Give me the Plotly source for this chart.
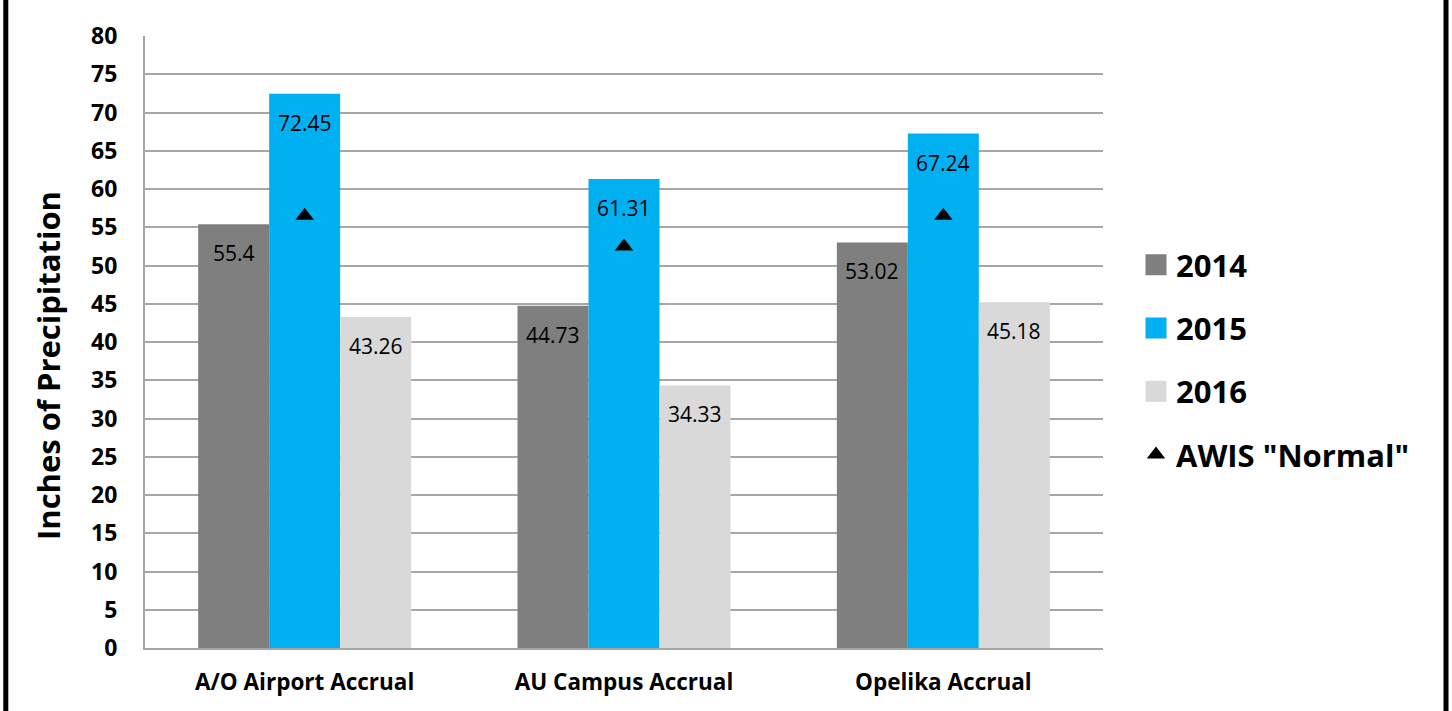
import plotly.graph_objects as go

categories = ["A/O Airport Accrual", "AU Campus Accrual", "Opelika Accrual"]
series_names = ["2014", "2015", "2016"]
values_2014 = [55.4, 44.73, 53.02]
values_2015 = [72.45, 61.31, 67.24]
values_2016 = [43.26, 34.33, 45.18]
normal_name = 'AWIS "Normal"'
normal_values = [56.5, 52.5, 56.5]
y_ticks = list(range(0, 85, 5))
y_title = "Inches of Precipitation"

colors = ["#7F7F7F", "#00B0F0", "#D9D9D9"]
series_values = [values_2014, values_2015, values_2016]

W, H = 1452, 711
ML, MR, MT, MB = 145, 349, 36, 63
plot_w = W - ML - MR
plot_h = H - MT - MB
BARGAP = 0.333
bar_px = plot_w / len(categories) * (1 - BARGAP) / len(series_names)

FONT = "Open Sans"

fig = go.Figure()

for j, (name, vals) in enumerate(zip(series_names, series_values)):
    fig.add_trace(go.Bar(
        x=categories, y=vals, name=name,
        marker=dict(color=colors[j], line=dict(width=0)),
        showlegend=False, hoverinfo="x+y",
    ))

# legend swatches
for j, name in enumerate(series_names):
    fig.add_trace(go.Scatter(
        x=[None], y=[None], mode="markers", name=name,
        legendgroup=name,
        marker=dict(symbol="square", size=16, color=colors[j],
                    line=dict(color=colors[j], width=5)),
    ))

fig.add_trace(go.Scatter(
    x=categories, y=normal_values, mode="markers", name=normal_name,
    legendgroup="normal",
    marker=dict(symbol="triangle-up", size=16, color="black"),
))

px2x = lambda px: (px - ML) / plot_w
px2y = lambda py: (ML * 0 + (MT + plot_h) - py) / plot_h

# data labels
annotations = []
for j, vals in enumerate(series_values):
    for i, v in enumerate(vals):
        annotations.append(dict(
            x=categories[i], y=v, xref="x", yref="y",
            text=f"{v:g}", showarrow=False,
            xshift=(j - 1) * bar_px, yshift=-29,
            font=dict(family=FONT, size=21, color="black"),
        ))

# y-axis title
annotations.append(dict(
    x=px2x(48), y=px2y(366), xref="paper", yref="paper",
    text=y_title, textangle=-90, showarrow=False,
    xanchor="center", yanchor="middle",
    font=dict(family=FONT, size=31, color="black", weight="bold"),
))

shapes = [
    dict(type="line", xref="paper", yref="paper",
         x0=px2x(5.8), x1=px2x(5.8), y0=-0.3, y1=1.3,
         line=dict(color="black", width=5)),
    dict(type="line", xref="paper", yref="paper",
         x0=px2x(1446), x1=px2x(1446), y0=-0.3, y1=1.3,
         line=dict(color="black", width=5)),
]

fig.update_layout(
    width=W, height=H,
    margin=dict(l=ML, r=MR, t=MT, b=MB, autoexpand=False),
    paper_bgcolor="white", plot_bgcolor="white",
    barmode="group", bargap=BARGAP, bargroupgap=0,
    font=dict(family=FONT, color="black"),
    annotations=annotations,
    shapes=shapes,
    legend=dict(
        x=px2x(1136), xanchor="left",
        y=px2y(360), yanchor="middle",
        font=dict(family=FONT, size=31, color="black", weight="bold"),
        tracegroupgap=20, traceorder="grouped",
        bgcolor="rgba(0,0,0,0)",
    ),
    showlegend=True,
)

fig.update_xaxes(
    showgrid=False, showline=True, linecolor="#A6A6A6", linewidth=2,
    ticks="", tickfont=dict(family=FONT, size=22.5, color="black", weight="bold"),
    ticklabelstandoff=13,
)
fig.update_yaxes(
    range=[0, 80], tickvals=y_ticks,
    showgrid=True, gridcolor="#A6A6A6", gridwidth=2,
    showline=True, linecolor="#A6A6A6", linewidth=2,
    zeroline=False, ticks="",
    tickfont=dict(family=FONT, size=23, color="black", weight="bold"),
    ticklabelstandoff=21,
)

fig.write_html("out.html")
